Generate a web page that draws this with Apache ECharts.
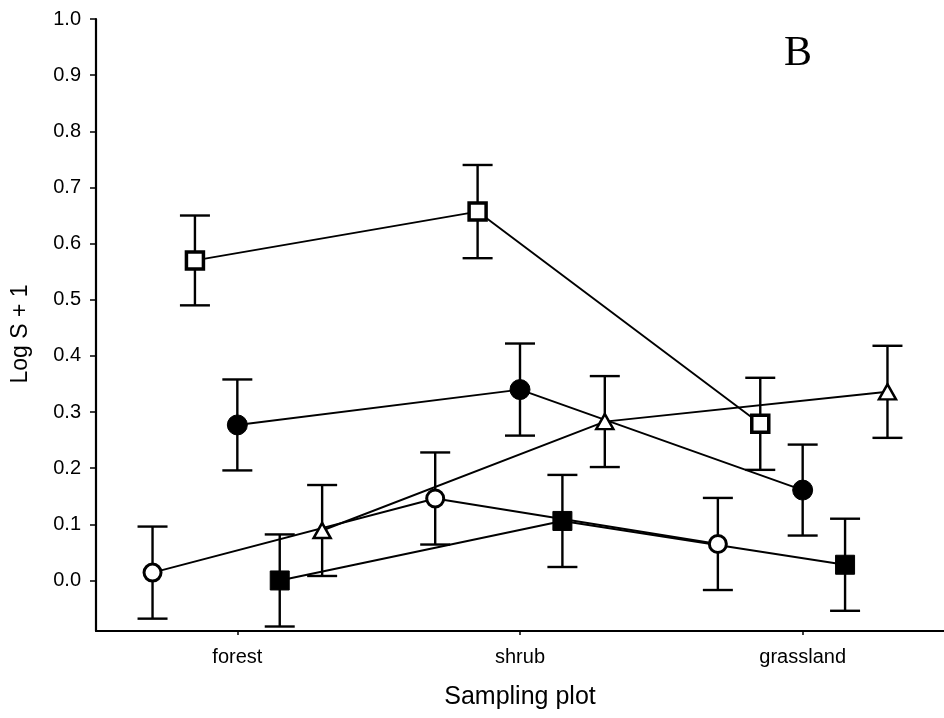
<!DOCTYPE html>
<html>
<head>
<meta charset="utf-8">
<script src="https://cdn.jsdelivr.net/npm/echarts@6/dist/echarts.min.js"></script>
<style>
  html, body { margin: 0; padding: 0; background: #fff; }
  #chart { width: 944px; height: 718px; }
</style>
</head>
<body>
<div id="chart"></div>
<script>
// ---- Data ----
const categories = ['forest', 'shrub', 'grassland'];
const yTicks = [0.0, 0.1, 0.2, 0.3, 0.4, 0.5, 0.6, 0.7, 0.8, 0.9, 1.0];

const openCircleMean   = [0.014, 0.146, 0.065];
const openCircleSE     = [0.082, 0.082, 0.082];
const openSquareMean   = [0.570, 0.657, 0.279];
const openSquareSE     = [0.080, 0.083, 0.082];
const filledCircleMean = [0.277, 0.340, 0.161];
const filledCircleSE   = [0.081, 0.082, 0.081];
const filledSquareMean = [0.000, 0.106, 0.028];
const filledSquareSE   = [0.082, 0.082, 0.082];
const openTriangleMean = [0.089, 0.283, 0.336];
const openTriangleSE   = [0.081, 0.081, 0.082];

// ---- Styling (horizontal dodge of each group, marker styles) ----
const groups = [
  { mean: openCircleMean,   se: openCircleSE,   dodge: -0.30, symbol: 'circle',   size: 17,       fill: '#fff', bw: 3 },
  { mean: openSquareMean,   se: openSquareSE,   dodge: -0.15, symbol: 'rect',     size: 17,       fill: '#fff', bw: 3.5 },
  { mean: filledCircleMean, se: filledCircleSE, dodge:  0.00, symbol: 'circle',   size: 20,       fill: '#000', bw: 1 },
  { mean: filledSquareMean, se: filledSquareSE, dodge:  0.15, symbol: 'rect',     size: 19,       fill: '#000', bw: 1 },
  { mean: openTriangleMean, se: openTriangleSE, dodge:  0.30, symbol: 'triangle', size: [17, 15], fill: '#fff', bw: 2.5 }
];

const series = [];
groups.forEach(g => {
  const pts = categories.map((c, i) => [i + 1 + g.dodge, g.mean[i]]);
  const bars = categories.map((c, i) => [i + 1 + g.dodge, g.mean[i], g.mean[i] - g.se[i], g.mean[i] + g.se[i]]);
  series.push({
    type: 'custom',
    z: 1,
    silent: true,
    data: bars,
    encode: { x: 0, y: [1, 2, 3] },
    renderItem: function (params, api) {
      const x = api.value(0);
      const lo = api.coord([x, api.value(2)]);
      const hi = api.coord([x, api.value(3)]);
      const hw = 15;
      const st = { stroke: '#000', lineWidth: 2.4 };
      return {
        type: 'group',
        children: [
          { type: 'line', shape: { x1: lo[0], y1: lo[1], x2: hi[0], y2: hi[1] }, style: st },
          { type: 'line', shape: { x1: lo[0] - hw, y1: lo[1], x2: lo[0] + hw, y2: lo[1] }, style: st },
          { type: 'line', shape: { x1: hi[0] - hw, y1: hi[1], x2: hi[0] + hw, y2: hi[1] }, style: st }
        ]
      };
    }
  });
  series.push({
    type: 'line',
    z: 2,
    silent: true,
    data: pts,
    symbol: 'none',
    lineStyle: { color: '#000', width: 1.9 }
  });
  series.push({
    type: 'scatter',
    z: 3,
    silent: true,
    data: pts,
    symbol: g.symbol,
    symbolSize: g.size,
    itemStyle: { color: g.fill, borderColor: '#000', borderWidth: g.bw, opacity: 1 }
  });
});

const chart = echarts.init(document.getElementById('chart'), null, { renderer: 'canvas' });
chart.setOption({
  animation: false,
  backgroundColor: '#fff',
  grid: { left: 96, top: 19, width: 852, height: 612 },
  xAxis: {
    type: 'value',
    min: 0.5,
    max: 3.5,
    name: 'Sampling plot',
    nameLocation: 'middle',
    nameGap: 54,
    nameTextStyle: { fontFamily: 'Liberation Sans', fontSize: 25, color: '#000' },
    axisLine: { onZero: false, lineStyle: { color: '#000', width: 2.2 } },
    axisTick: { show: true, length: 4, customValues: [1, 2, 3], lineStyle: { color: '#000', width: 1.5 } },
    axisLabel: {
      customValues: [1, 2, 3],
      formatter: v => categories[Math.round(v) - 1],
      margin: 16,
      fontFamily: 'Liberation Sans', fontSize: 20, color: '#000'
    },
    splitLine: { show: false }
  },
  yAxis: {
    type: 'value',
    min: -0.09,
    max: 1.0,
    name: 'Log S + 1',
    nameLocation: 'middle',
    nameGap: 64,
    nameTextStyle: { fontFamily: 'Liberation Sans', fontSize: 23, color: '#000', padding: [0, 0, 0, -18] },
    axisLine: { onZero: false, lineStyle: { color: '#000', width: 2.2 } },
    axisTick: { show: true, length: 6, customValues: yTicks, lineStyle: { color: '#000', width: 1.5 } },
    axisLabel: {
      customValues: yTicks,
      formatter: v => v.toFixed(1),
      margin: 15,
      fontFamily: 'Liberation Sans', fontSize: 20, color: '#000'
    },
    splitLine: { show: false }
  },
  graphic: [{
    type: 'text',
    left: 784,
    top: 33,
    style: { text: 'B', font: '42px "Liberation Serif"', fill: '#000' }
  }],
  series: series
});
</script>
</body>
</html>
